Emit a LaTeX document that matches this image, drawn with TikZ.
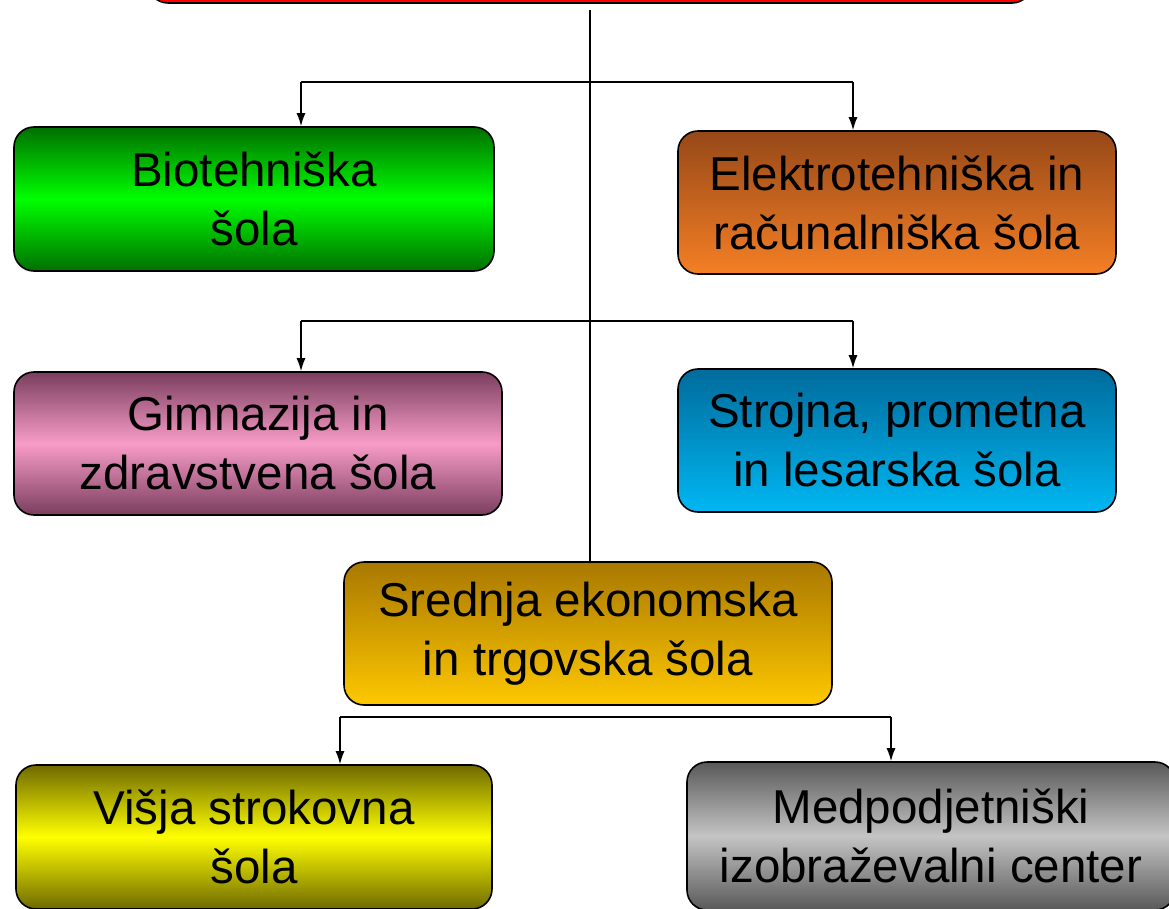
\documentclass[tikz,border=0pt]{standalone}
\usepackage{fontspec}
\setmainfont{Liberation Sans}
\usetikzlibrary{arrows.meta}
\definecolor{grD}{HTML}{006F00}\definecolor{grL}{HTML}{00FF00}
\definecolor{orD}{HTML}{964818}\definecolor{orL}{HTML}{F57F25}
\definecolor{piD}{HTML}{7A3E5E}\definecolor{piL}{HTML}{F89CC8}
\definecolor{blD}{HTML}{006B9C}\definecolor{blL}{HTML}{00B7F2}
\definecolor{goD}{HTML}{A97800}\definecolor{goL}{HTML}{FEC800}
\definecolor{olD}{HTML}{6F6A00}\definecolor{olL}{HTML}{FFFF00}
\definecolor{gyD}{HTML}{595959}\definecolor{gyL}{HTML}{C4C4C4}
\tikzset{
  box/.style={draw=black, line width=1.6pt, rounded corners=20pt, rectangle,
    align=center, inner sep=0pt, font=\fontsize{47.5}{59}\selectfont},
  conn/.style={draw=black, line width=1.4pt},
  arr/.style={conn, -{Latex[length=13pt,width=9pt]}}
}
\begin{document}
\begin{tikzpicture}[x=1pt,y=-1pt]
\clip (0,0) rectangle (1169,909);
\node[box, fill=red, minimum width=884pt, minimum height=106pt] (top) at (590,-50) {};
\node[box, top color=grD, bottom color=grD, middle color=grL, minimum width=480pt, minimum height=144pt] (bio) at (254,199) {Biotehniška\\šola};
\node[box, top color=orD, bottom color=orL, minimum width=438pt, minimum height=143pt] (elek) at (897,202.5) {Elektrotehniška in\\računalniška šola};
\node[box, top color=piD, bottom color=piD, middle color=piL, minimum width=488pt, minimum height=143pt] (gim) at (258,443.5) {Gimnazija in\\zdravstvena šola};
\node[box, top color=blD, bottom color=blL, minimum width=438pt, minimum height=143pt] (stro) at (897,440.5) {Strojna, prometna\\in lesarska šola};
\node[box, top color=goD, bottom color=goL, minimum width=488pt, minimum height=143pt] (sred) at (588,633.5) {Srednja ekonomska\\in trgovska šola};
\node[box, top color=olD, bottom color=olD, middle color=olL, minimum width=476pt, minimum height=144pt] (visja) at (254,837) {Višja strokovna\\šola};
\node[box, top color=gyD, bottom color=gyD, middle color=gyL, minimum width=488pt, minimum height=148pt] (med) at (931,836) {Medpodjetniški\\izobraževalni center};
\coordinate (t0) at (590,10);
\coordinate (h1l) at (301,82); \coordinate (h1r) at (853,82);
\coordinate (h2l) at (301,321); \coordinate (h2r) at (853,321);
\coordinate (h3l) at (340,717); \coordinate (h3r) at (891,717);
\draw[conn] (t0) -- (t0 |- sred.north);
\draw[conn] (h1l) -- (h1r);
\draw[arr] (h1l) -- (h1l |- bio.north);
\draw[arr] (h1r) -- (h1r |- elek.north);
\draw[conn] (h2l) -- (h2r);
\draw[arr] (h2l) -- (h2l |- gim.north);
\draw[arr] (h2r) -- (h2r |- stro.north);
\draw[conn] (h3l) -- (h3r);
\draw[arr] (h3l) -- (h3l |- visja.north);
\draw[arr] (h3r) -- (h3r |- med.north);
\end{tikzpicture}
\end{document}
